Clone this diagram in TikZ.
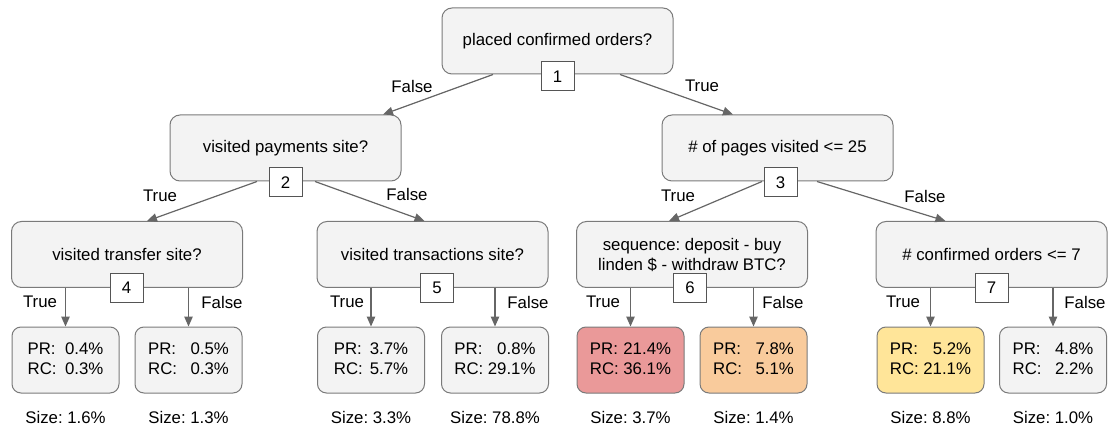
\documentclass[tikz,border=0pt]{standalone}
\usepackage{fontspec}
\setmainfont{Liberation Sans}
\usetikzlibrary{arrows.meta,calc}
\definecolor{boxfill}{HTML}{F3F3F3}
\definecolor{boxline}{HTML}{7A7A7A}
\definecolor{numline}{HTML}{555555}
\definecolor{arrowc}{HTML}{666666}
\definecolor{leafred}{HTML}{EA9999}
\definecolor{leaforange}{HTML}{F9CB9C}
\definecolor{leafyellow}{HTML}{FFE599}
\frenchspacing
\newcommand{\leaftxt}[3]{\begin{tabular}{@{}l@{\hspace{#1}}r@{}}PR: & #2\\ RC: & #3\end{tabular}}
\begin{document}
\begin{tikzpicture}[x=1pt,y=-1pt, font=\fontsize{16.8}{20}\selectfont,
 split/.style={draw=boxline, fill=boxfill, rounded corners=10pt, minimum width=231pt, minimum height=66pt, line width=1pt, align=center, inner sep=0pt},
 leaf/.style={draw=boxline, fill=boxfill, rounded corners=9pt, minimum width=107pt, minimum height=66pt, line width=1pt, inner sep=0pt},
 numbox/.style={draw=numline, fill=white, minimum width=33pt, minimum height=29pt, inner sep=0pt, line width=1pt},
 arr/.style={draw=arrowc, line width=1.2pt, -{Triangle[length=10pt,width=8.5pt]}},
 lbl/.style={inner sep=0pt},
 sizelbl/.style={inner sep=0pt}]
\useasboundingbox (0,0) rectangle (1108,430);
% split nodes
\node[split] (n1) at (557.5,41) {placed confirmed orders?};
\node[split] (n2) at (285.5,148) {visited payments site?};
\node[split] (n3) at (777.5,148) {\# of pages visited <= 25};
\node[split] (n4) at (127,254.5) {visited transfer site?};
\node[split] (n5) at (432.5,254.5) {visited transactions site?};
\node[split] (n6) at (692,254.5) {sequence: deposit - buy\\linden \$ - withdraw BTC?};
\node[split] (n7) at (991.5,254.5) {\# confirmed orders <= 7};
% leaves
\node[leaf] (l1) at (65.5,360) {\leaftxt{8.5pt}{0.4\%}{0.3\%}};
\node[leaf] (l2) at (188.5,360) {\leaftxt{13.5pt}{0.5\%}{0.3\%}};
\node[leaf] (l3) at (371,360) {\leaftxt{7pt}{3.7\%}{5.7\%}};
\node[leaf] (l4) at (495,360) {\leaftxt{4.5pt}{0.8\%}{29.1\%}};
\node[leaf, fill=leafred] (l5) at (630.5,360) {\leaftxt{4.5pt}{21.4\%}{36.1\%}};
\node[leaf, fill=leaforange] (l6) at (753.5,360) {\leaftxt{13.5pt}{7.8\%}{5.1\%}};
\node[leaf, fill=leafyellow] (l7) at (930.5,360) {\leaftxt{4.5pt}{5.2\%}{21.1\%}};
\node[leaf] (l8) at (1053,360) {\leaftxt{13.5pt}{4.8\%}{2.2\%}};
% diagonal connectors
\draw[arr] ([xshift=-64.5pt]n1.south) -- ([xshift=97.5pt]n2.north);
\draw[arr] ([xshift=62.5pt]n1.south) -- ([xshift=-44.5pt]n3.north);
\draw[arr] ([xshift=-28.5pt]n2.south) -- ([xshift=20pt]n4.north);
\draw[arr] ([xshift=29.5pt]n2.south) -- ([xshift=-8pt]n5.north);
\draw[arr] ([xshift=-15.5pt]n3.south) -- ([xshift=-23pt]n6.north);
\draw[arr] ([xshift=39.5pt]n3.south) -- ([xshift=-46pt]n7.north);
% vertical connectors
\draw[arr] (l1.north |- n4.south) -- (l1.north);
\draw[arr] (l2.north |- n4.south) -- (l2.north);
\draw[arr] (l3.north |- n5.south) -- (l3.north);
\draw[arr] (l4.north |- n5.south) -- (l4.north);
\draw[arr] (l5.north |- n6.south) -- (l5.north);
\draw[arr] (l6.north |- n6.south) -- (l6.north);
\draw[arr] (l7.north |- n7.south) -- (l7.north);
\draw[arr] (l8.north |- n7.south) -- (l8.north);
% number boxes
\node[numbox] (b1) at (557.5,76.5) {1};
\node[numbox] (b2) at (285.5,182.5) {2};
\node[numbox] (b3) at (780.5,182.5) {3};
\node[numbox] (b4) at (126.5,288) {4};
\node[numbox] (b5) at (437,288) {5};
\node[numbox] (b6) at (690,288) {6};
\node[numbox] (b7) at (991.5,288) {7};
% edge labels
\node[lbl] (e1) at (412,86) {False};
\node[lbl] (e2) at (702,86) {True};
\node[lbl] (e3) at (160,196) {True};
\node[lbl] (e4) at (407,194) {False};
\node[lbl] (e5) at (678,196) {True};
\node[lbl] (e6) at (925,196) {False};
\node[lbl] (e7) at (40,302) {True};
\node[lbl] (e8) at (222,302) {False};
\node[lbl] (e9) at (347,302) {True};
\node[lbl] (e10) at (528,302) {False};
\node[lbl] (e11) at (603,302) {True};
\node[lbl] (e12) at (783,302) {False};
\node[lbl] (e13) at (903,302) {True};
\node[lbl] (e14) at (1085,302) {False};
% size labels
\node[sizelbl] (s1) at (65.5,417) {Size: 1.6\%};
\node[sizelbl] (s2) at (188.5,417) {Size: 1.3\%};
\node[sizelbl] (s3) at (371,417) {Size: 3.3\%};
\node[sizelbl] (s4) at (495,417) {Size: 78.8\%};
\node[sizelbl] (s5) at (630.5,417) {Size: 3.7\%};
\node[sizelbl] (s6) at (753.5,417) {Size: 1.4\%};
\node[sizelbl] (s7) at (930.5,417) {Size: 8.8\%};
\node[sizelbl] (s8) at (1053,417) {Size: 1.0\%};
\end{tikzpicture}
\end{document}
